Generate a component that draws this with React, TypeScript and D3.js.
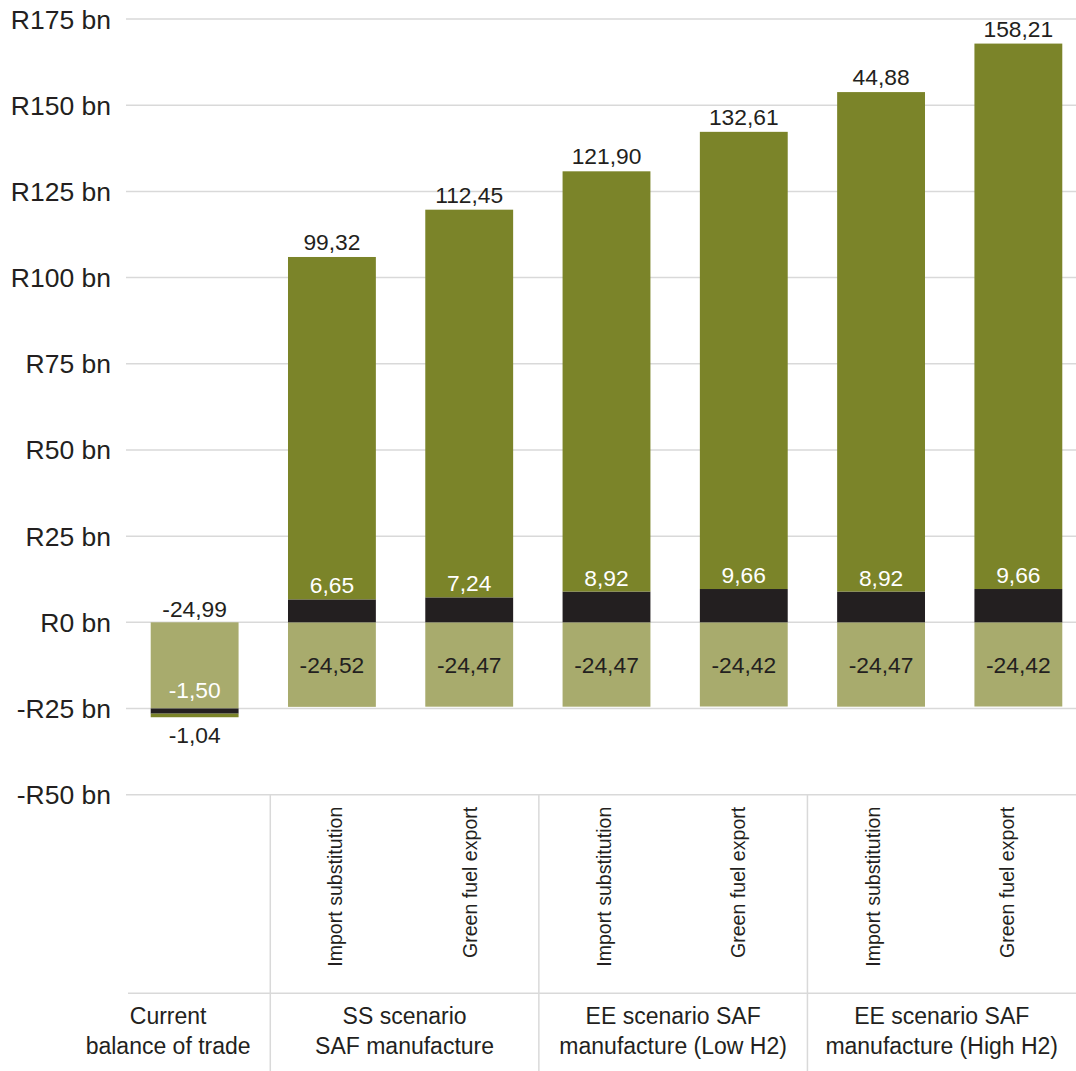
import React from "react";
import * as d3 from "d3";

const W = 1076;
const H = 1071;

// ---- data ----
const categories = ["cur", "ss-imp", "ss-exp", "eel-imp", "eel-exp", "eeh-imp", "eeh-exp"];
const subLabels = ["", "Import substitution", "Green fuel export", "Import substitution", "Green fuel export", "Import substitution", "Green fuel export"];
const groupLabels = [
  ["Current", "balance of trade"],
  ["SS scenario", "SAF manufacture"],
  ["EE scenario SAF", "manufacture (Low H2)"],
  ["EE scenario SAF", "manufacture (High H2)"],
];
const groupStart = [0, 1, 3, 5];
const groupSize = [1, 2, 2, 2];

const lightValues = [-24.99, -24.52, -24.47, -24.47, -24.42, -24.47, -24.42];
const blackValues = [-1.5, 6.65, 7.24, 8.92, 9.66, 8.92, 9.66];
const oliveValues = [-1.04, 99.32, 112.45, 121.9, 132.61, 144.88, 158.21];
const oliveLabels = ["-1,04", "99,32", "112,45", "121,90", "132,61", "44,88", "158,21"];

const yTickValues = [-50, -25, 0, 25, 50, 75, 100, 125, 150, 175];

const COLORS: Record<string, string> = {
  light: "#a8ab6d",
  black: "#231f20",
  olive: "#7b8429",
};
const TEXT = "#231f20";
const GRID = "#d9d9d9";
const FONT = "'Liberation Sans', Arial, Helvetica, sans-serif";

const fmt = (v: number) => v.toFixed(2).replace(".", ",");

export default function App() {
  const x = d3
    .scaleBand<number>()
    .domain(d3.range(categories.length))
    .range([126, 1087])
    .paddingInner(0.36)
    .paddingOuter(0.18);
  const cellX = d3.scaleBand<number>().domain(d3.range(categories.length)).range([136, 1076]);
  const y = d3.scaleLinear().domain([-50, 175]).range([794.7, 19]);

  const rows = categories.map((c, i) => ({
    i,
    light: lightValues[i],
    black: blackValues[i],
    olive: oliveValues[i],
  }));
  const stack = d3
    .stack<any>()
    .keys(["light", "black", "olive"])
    .offset(d3.stackOffsetDiverging);
  const series = stack(rows);

  const gridLeft = 126;
  const axisY = y(-50);
  const lowerLineY = 993.3;

  const labels: React.ReactNode[] = [];
  series.forEach((s) => {
    s.forEach((d: any, i: number) => {
      const cx = x(i)! + x.bandwidth() / 2;
      const top = y(Math.max(d[0], d[1]));
      const bot = y(Math.min(d[0], d[1]));
      const negBar = blackValues[i] < 0;
      if (s.key === "light") {
        labels.push(
          <text
            key={`l${i}`}
            x={cx}
            y={negBar ? y(0) - 5.5 : (top + bot) / 2 + 8.6}
            textAnchor="middle"
            fontSize={22.8}
            fill={TEXT}
          >
            {fmt(lightValues[i])}
          </text>
        );
      } else if (s.key === "black") {
        labels.push(
          <text key={`b${i}`} x={cx} y={top - (negBar ? 10 : 6)} textAnchor="middle" fontSize={22.8} fill="#ffffff">
            {fmt(blackValues[i])}
          </text>
        );
      } else {
        labels.push(
          <text
            key={`o${i}`}
            x={cx}
            y={negBar ? bot + 26 : top - 7}
            textAnchor="middle"
            fontSize={22.8}
            fill={TEXT}
          >
            {oliveLabels[i]}
          </text>
        );
      }
    });
  });

  return (
    <svg
      width={W}
      height={H}
      style={{ position: "absolute", left: 0, top: 0, background: "#fff" }}
      fontFamily={FONT}
    >
      {/* gridlines */}
      {yTickValues.map((v) => (
        <line key={`g${v}`} x1={gridLeft} x2={W} y1={y(v)} y2={y(v)} stroke={GRID} strokeWidth={1.5} />
      ))}
      {/* y labels */}
      {yTickValues.map((v) => (
        <text key={`t${v}`} x={111} y={y(v)} dy="0.36em" textAnchor="end" fontSize={26.5} fill={TEXT}>
          {v < 0 ? `-R${-v} bn` : `R${v} bn`}
        </text>
      ))}
      {/* bars */}
      {series.map((s) => (
        <g key={s.key} fill={COLORS[s.key]}>
          {s.map((d: any, i: number) => (
            <rect
              key={i}
              x={x(i)}
              width={x.bandwidth()}
              y={y(Math.max(d[0], d[1]))}
              height={Math.abs(y(d[0]) - y(d[1]))}
            />
          ))}
        </g>
      ))}
      {labels}
      {/* category axis structure */}
      <line x1={gridLeft + 2} x2={W} y1={lowerLineY} y2={lowerLineY} stroke={GRID} strokeWidth={1.5} />
      {groupStart.slice(1).map((gs, k) => (
        <line
          key={`sep${k}`}
          x1={cellX(gs)!}
          x2={cellX(gs)!}
          y1={axisY}
          y2={H}
          stroke={GRID}
          strokeWidth={1.5}
        />
      ))}
      {/* rotated sub labels */}
      {subLabels.map((t, i) =>
        t ? (
          <text
            key={`s${i}`}
            transform={`translate(${cellX(i)! + cellX.bandwidth() / 2 + 5},${axisY + 12}) rotate(-90)`}
            textAnchor="end"
            fontSize={19.6}
            fill={TEXT}
          >
            {t}
          </text>
        ) : null
      )}
      {/* group labels */}
      {groupLabels.map((lines, g) => {
        const x0 = cellX(groupStart[g])!;
        const x1 = cellX(groupStart[g] + groupSize[g] - 1)! + cellX.bandwidth();
        const cx = (x0 + x1) / 2 + (g === 0 ? -35 : 0);
        return (
          <text key={`grp${g}`} textAnchor="middle" fontSize={23} fill={TEXT}>
            {lines.map((ln, k) => (
              <tspan key={k} x={cx} y={1024.3 + k * 29.7}>
                {ln}
              </tspan>
            ))}
          </text>
        );
      })}
    </svg>
  );
}
